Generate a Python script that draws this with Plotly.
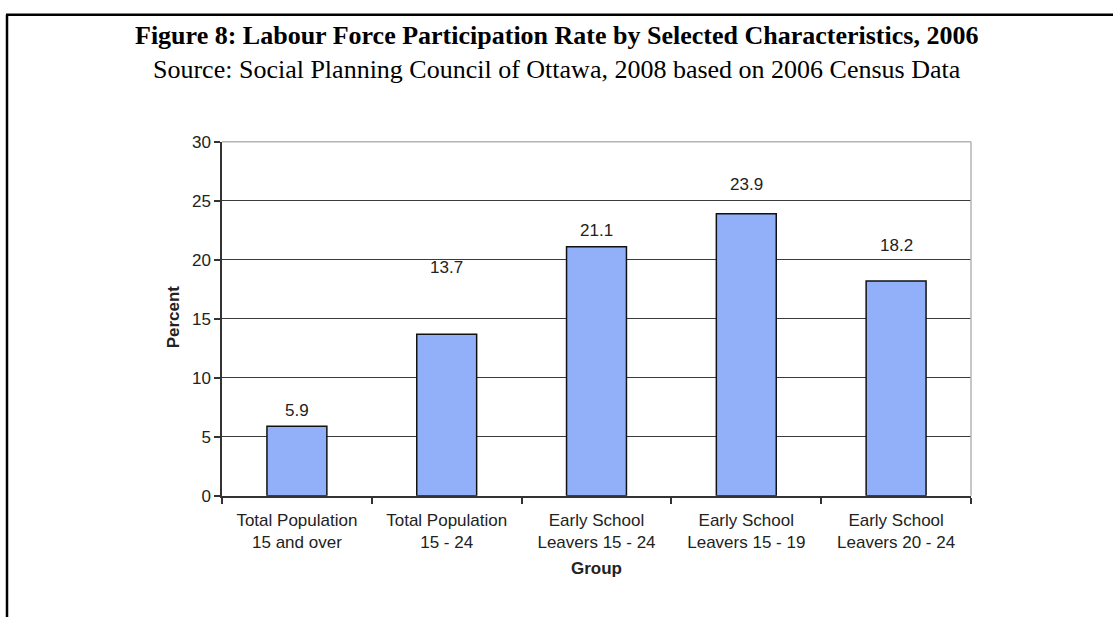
import plotly.graph_objects as go

# Labour force participation rate (%) by group, Ottawa 2006
groups = [
    "Total Population<br>15 and over",
    "Total Population<br>15 - 24",
    "Early School<br>Leavers 15 - 24",
    "Early School<br>Leavers 15 - 19",
    "Early School<br>Leavers 20 - 24",
]
rates = [5.9, 13.7, 21.1, 23.9, 18.2]
y_ticks = [0, 5, 10, 15, 20, 25, 30]

# vertical lift (px) of each value label above its bar top
label_lift = [16, 67, 16, 29, 36]

W, H = 1113, 627
x0, x1 = 222 / W, 971 / W
y0, y1 = (H - 502) / H, (H - 137) / H

SANS = "Liberation Sans, Arial"
SERIF = "Liberation Serif, Times New Roman"

fig = go.Figure()
fig.add_trace(go.Bar(
    x=groups,
    y=rates,
    width=0.4,
    marker=dict(color="#92AFFA", line=dict(color="#111111", width=1.5)),
    hoverinfo="x+y",
))

for g, v, lift in zip(groups, rates, label_lift):
    fig.add_annotation(
        x=g, y=v, xref="x", yref="y",
        text=f"{v:.1f}", showarrow=False,
        yanchor="middle", yshift=lift,
        font=dict(family=SANS, size=17, color="#222222"),
    )

fig.update_layout(
    width=W, height=H,
    margin=dict(l=0, r=0, t=0, b=0),
    paper_bgcolor="white",
    plot_bgcolor="white",
    showlegend=False,
    bargap=0.6,
    xaxis=dict(
        domain=[x0, x1],
        type="category",
        showline=True, linecolor="#333333", linewidth=1.5,
        ticks="outside", ticklen=6, tickcolor="#333333", tickwidth=1.5,
        tickson="boundaries",
        ticklabelstandoff=8,
        showgrid=False,
        tickfont=dict(family=SANS, size=17, color="#222222"),
        fixedrange=True,
    ),
    yaxis=dict(
        domain=[y0, y1],
        range=[0, 30],
        tickvals=y_ticks,
        showline=True, linecolor="#333333", linewidth=1.5,
        ticks="outside", ticklen=6, tickcolor="#333333", tickwidth=1.5,
        showgrid=True, gridcolor="#3a3a3a", gridwidth=1.2,
        zeroline=False,
        tickfont=dict(family=SANS, size=17, color="#222222"),
        fixedrange=True,
    ),
    font=dict(family=SANS, color="#222222"),
)

# plot-area frame: light grey top and right edges
fig.add_shape(type="line", xref="paper", yref="paper", x0=x0, x1=x1, y0=y1, y1=y1,
              line=dict(color="#b4b4b4", width=1.5), layer="above")
fig.add_shape(type="line", xref="paper", yref="paper", x0=x1, x1=x1, y0=y0, y1=y1,
              line=dict(color="#b4b4b4", width=1.5), layer="above")

# outer figure frame (left and top edges)
fig.add_shape(type="line", xref="paper", yref="paper", x0=7 / W, x1=7 / W, y0=0, y1=1 - 6 / H,
              line=dict(color="black", width=2.5))
fig.add_shape(type="line", xref="paper", yref="paper", x0=6 / W, x1=1, y0=1 - 6 / H, y1=1 - 6 / H,
              line=dict(color="black", width=2.5))

# titles
fig.add_annotation(
    x=0.5, y=1 - 27 / H, xref="paper", yref="paper", showarrow=False,
    text="<b>Figure 8: Labour Force Participation Rate by Selected Characteristics, 2006</b>",
    font=dict(family=SERIF, size=26, color="black"),
    xanchor="center", yanchor="middle",
)
fig.add_annotation(
    x=0.5, y=1 - 62 / H, xref="paper", yref="paper", showarrow=False,
    text="Source: Social Planning Council of Ottawa, 2008 based on 2006 Census Data",
    font=dict(family=SERIF, size=26, color="black"),
    xanchor="center", yanchor="middle",
)

# axis titles
fig.add_annotation(
    x=173 / W, y=1 - 318 / H, xref="paper", yref="paper", showarrow=False,
    text="<b>Percent</b>", textangle=-90,
    font=dict(family=SANS, size=17, color="#222222"),
    xanchor="center", yanchor="middle",
)
fig.add_annotation(
    x=(x0 + x1) / 2, y=1 - 577 / H, xref="paper", yref="paper", showarrow=False,
    text="<b>Group</b>",
    font=dict(family=SANS, size=17, color="#222222"),
    xanchor="center", yanchor="middle",
)

fig.write_html("out.html")
